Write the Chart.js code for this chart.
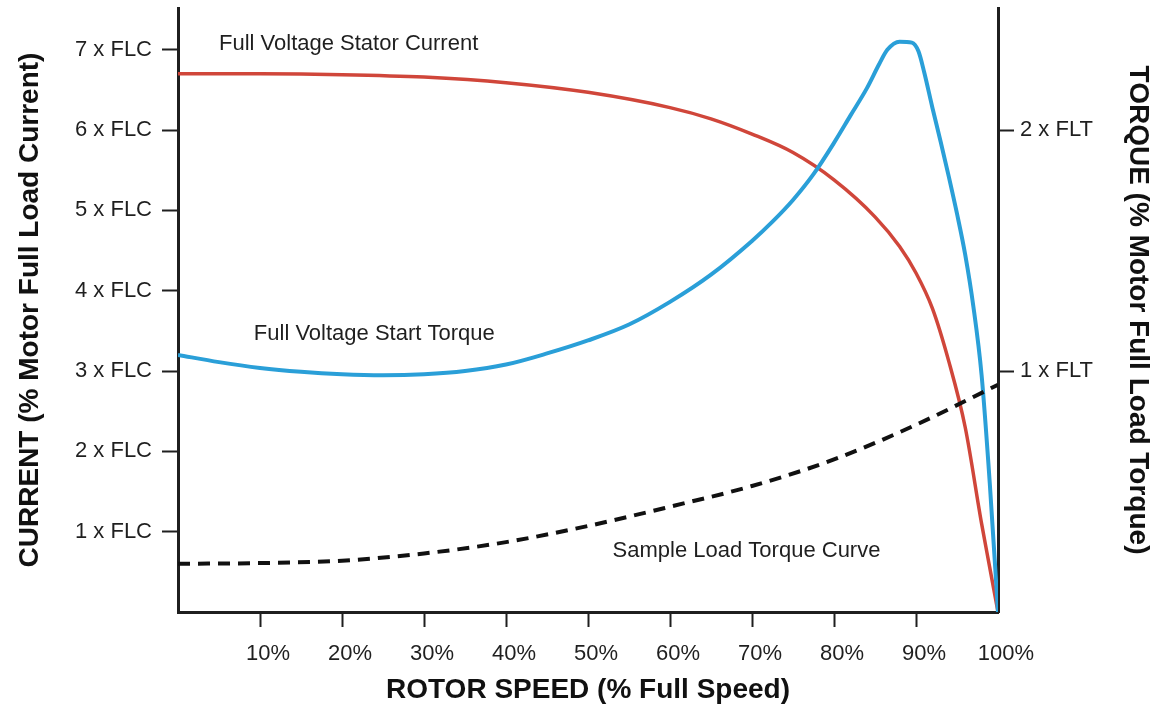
<!DOCTYPE html>
<html>
<head>
<meta charset="utf-8">
<script src="https://cdn.jsdelivr.net/npm/chart.js@4.4.1/dist/chart.umd.min.js"></script>
<style>
  html, body { margin: 0; padding: 0; background: #fff; }
  #wrap { width: 1157px; height: 707px; position: relative; }
</style>
</head>
<body>
<div id="wrap"><canvas id="motor-chart"></canvas></div>

<script>
// rotor speed (% of full speed) tick values
const speedTicks = [10, 20, 30, 40, 50, 60, 70, 80, 90, 100];
const currentTicks = [1, 2, 3, 4, 5, 6, 7];      // x FLC
const torqueTicks = [1, 2];                       // x FLT

// Full voltage stator current (x FLC)
const currentSpeed = [0, 10, 20, 30, 40, 50, 60, 65, 70, 75, 80, 85, 88, 90, 92, 94, 96, 98, 99, 100];
const currentFLC   = [6.70, 6.70, 6.69, 6.66, 6.59, 6.47, 6.28, 6.14, 5.95, 5.72, 5.38, 4.92, 4.55, 4.22, 3.78, 3.12, 2.30, 1.10, 0.55, 0];

// Full voltage start torque (x FLT)
const torqueSpeed = [0, 5, 10, 15, 20, 25, 30, 35, 40, 45, 50, 55, 60, 65, 70, 72.5, 75, 77.5, 80, 82, 84, 85.5, 86.5, 88, 89.5, 90.3, 91, 92, 93, 94, 95, 96, 97, 98, 99, 100];
const torqueFLT   = [1.067, 1.037, 1.013, 0.997, 0.987, 0.983, 0.987, 1.0, 1.027, 1.073, 1.127, 1.193, 1.287, 1.40, 1.54, 1.62, 1.71, 1.817, 1.947, 2.06, 2.173, 2.273, 2.333, 2.367, 2.363, 2.327, 2.24, 2.093, 1.953, 1.807, 1.653, 1.483, 1.267, 0.983, 0.533, 0];

// Sample load torque curve (x FLT)
const loadSpeed = [0, 10, 20, 30, 40, 50, 60, 70, 80, 90, 100];
const loadFLT   = [0.200, 0.203, 0.213, 0.243, 0.290, 0.357, 0.437, 0.523, 0.633, 0.777, 0.943];

function pts(xs, ys) {
    return xs.map((x, i) => ({x: x, y: ys[i]}));
}

const FONT = "'Liberation Sans', Arial, Helvetica, sans-serif";
const INK = '#1f1f1f';

// free text labels, anchored in data units (speed %, x FLC)
const curveNotes = {
    id: 'curveNotes',
    afterDatasetsDraw(chart, args, opts) {
        const ctx = chart.ctx;
        const xs = chart.scales.x, ys = chart.scales.yCurrent;
        ctx.save();
        ctx.font = '22px ' + FONT;
        ctx.fillStyle = INK;
        ctx.textAlign = 'left';
        ctx.textBaseline = 'alphabetic';
        opts.notes.forEach(n => {
            ctx.fillText(n.text, xs.getPixelForValue(n.speed), ys.getPixelForValue(n.level));
        });
        ctx.restore();
    }
};

const tickFont = {family: FONT, size: 22};
const titleFont = {family: FONT, size: 28, weight: 'bold'};

function fixWidth(w) {
    return s => { s.width = w; s.paddingTop = 0; s.paddingBottom = 0; };
}

new Chart(document.getElementById('motor-chart').getContext('2d'), {
    type: 'line',
    data: {
        datasets: [{
            label: 'Full Voltage Stator Current',
            data: pts(currentSpeed, currentFLC),
            yAxisID: 'yCurrent',
            borderColor: '#d0463a',
            borderWidth: 3.5,
            order: 2
        }, {
            label: 'Full Voltage Start Torque',
            data: pts(torqueSpeed, torqueFLT),
            yAxisID: 'yTorque',
            borderColor: '#2a9fd8',
            borderWidth: 4,
            order: 1
        }, {
            label: 'Sample Load Torque Curve',
            data: pts(loadSpeed, loadFLT),
            yAxisID: 'yTorque',
            borderColor: '#111',
            borderWidth: 4,
            borderDash: [12, 8],
            order: 0
        }]
    },
    options: {
        responsive: true,
        maintainAspectRatio: false,
        animation: false,
        devicePixelRatio: 1,
        layout: {padding: {top: 8, left: 0, right: 0, bottom: 0}},
        elements: {
            point: {radius: 0},
            line: {cubicInterpolationMode: 'monotone', fill: false, borderCapStyle: 'butt'}
        },
        plugins: {
            legend: {display: false},
            tooltip: {enabled: false},
            curveNotes: {
                notes: [
                    {text: 'Full Voltage Stator Current', speed: 5.0, level: 7.0},
                    {text: 'Full Voltage Start Torque', speed: 9.25, level: 3.39},
                    {text: 'Sample Load Torque Curve', speed: 53.0, level: 0.685}
                ]
            }
        },
        scales: {
            x: {
                type: 'linear',
                min: 0,
                max: 100,
                afterBuildTicks: s => { s.ticks = speedTicks.map(v => ({value: v})); },
                afterFit: s => { s.height = 95; s.paddingLeft = 0; s.paddingRight = 0; },
                grid: {
                    drawOnChartArea: false,
                    tickLength: 15,
                    tickWidth: 2,
                    tickColor: c => (c.tick && c.tick.value === 100) ? 'rgba(0,0,0,0)' : INK
                },
                border: {color: INK, width: 3},
                ticks: {
                    font: tickFont,
                    color: INK,
                    padding: 14,
                    labelOffset: 8,
                    maxRotation: 0,
                    callback: v => v + '%'
                },
                title: {
                    display: true,
                    text: 'ROTOR SPEED (% Full Speed)',
                    font: titleFont,
                    color: '#111',
                    padding: {top: 0, bottom: 0}
                }
            },
            yCurrent: {
                position: 'left',
                min: 0,
                max: 7.52,
                afterBuildTicks: s => { s.ticks = currentTicks.map(v => ({value: v})); },
                afterFit: fixWidth(178),
                grid: {drawOnChartArea: false, tickLength: 16, tickWidth: 2, tickColor: INK},
                border: {color: INK, width: 3},
                ticks: {font: tickFont, color: INK, padding: 10, callback: v => v + ' x FLC'},
                title: {
                    display: true,
                    text: 'CURRENT (% Motor Full Load Current)',
                    font: titleFont,
                    color: '#111',
                    padding: {top: 13, bottom: 0}
                }
            },
            yTorque: {
                position: 'right',
                min: 0,
                max: 7.52 / 3,
                afterBuildTicks: s => { s.ticks = torqueTicks.map(v => ({value: v})); },
                afterFit: fixWidth(159),
                grid: {drawOnChartArea: false, tickLength: 16, tickWidth: 2, tickColor: INK},
                border: {color: INK, width: 3},
                ticks: {font: tickFont, color: INK, padding: 6, callback: v => v + ' x FLT'},
                title: {
                    display: true,
                    text: 'TORQUE (% Motor Full Load Torque)',
                    font: titleFont,
                    color: '#111',
                    padding: {top: 2, bottom: 0}
                }
            }
        }
    },
    plugins: [curveNotes]
});
</script>
</body>
</html>
